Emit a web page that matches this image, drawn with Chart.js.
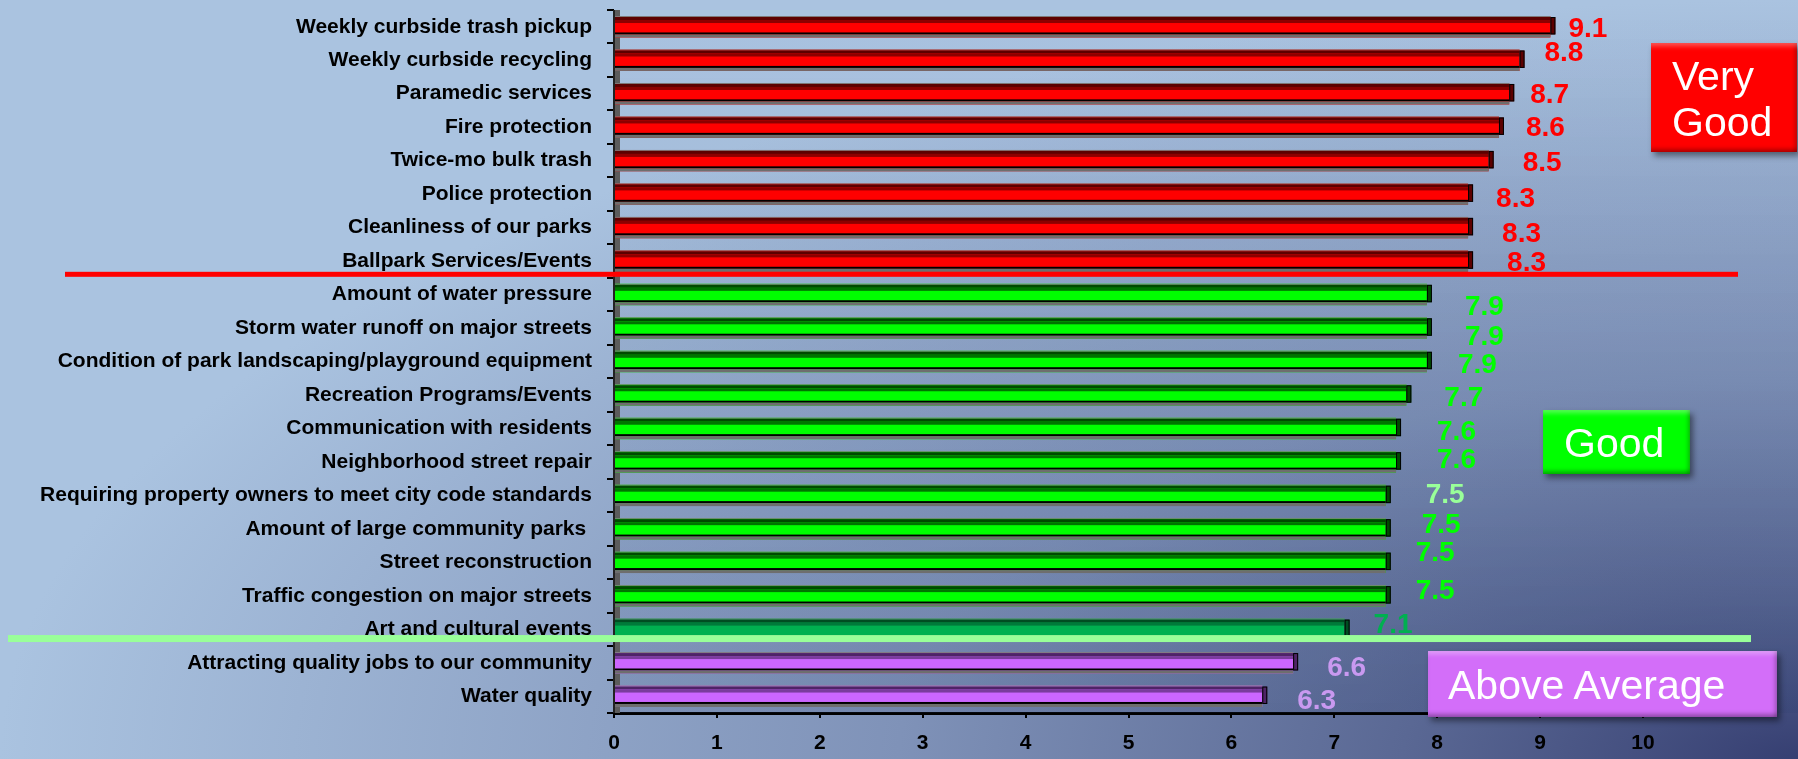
<!DOCTYPE html>
<html>
<head>
<meta charset="utf-8">
<script src="https://cdn.jsdelivr.net/npm/chart.js@4.4.0/dist/chart.umd.min.js"></script>
<style>
html, body { margin: 0; padding: 0; }
#wrap {
  position: relative; width: 1798px; height: 759px; overflow: hidden;
  background: radial-gradient(1798px 759px at 100% 100%, #363f72 0%, #5a6894 22%, #7f92b8 50%, #aac3e0 100%);
}
#wrap canvas { position: absolute; left: 0; top: 0; }
.tag {
  position: absolute; box-sizing: border-box; color: #fff;
  font-family: "Liberation Sans", Arial, sans-serif; font-size: 41px; line-height: 46px;
  box-shadow: 3px 4px 6px rgba(0,0,0,0.45),
              inset 0 6px 5px -3px rgba(255,255,255,0.35),
              inset 0 -5px 4px -2px rgba(0,0,0,0.3),
              inset -4px 0 4px -2px rgba(0,0,0,0.25);
}
</style>
</head>
<body>
<div id="wrap">
  <canvas id="chart"></canvas>
  <div class="tag" style="left:1651px;top:43px;width:146px;height:109px;padding:10px 0 0 21px;background:#ff0000;">Very<br>Good</div>
  <div class="tag" style="left:1543px;top:410px;width:147px;height:64px;padding:10px 0 0 21px;background:#00ff00;">Good</div>
  <div class="tag" style="left:1428px;top:651px;width:349px;height:66px;padding:11px 0 0 20px;background:#d36ef9;">Above Average</div>
</div>
<script>
// categories, top to bottom
const categories = [
  'Weekly curbside trash pickup',
  'Weekly curbside recycling',
  'Paramedic services',
  'Fire protection',
  'Twice-mo bulk trash',
  'Police protection',
  'Cleanliness of our parks',
  'Ballpark Services/Events',
  'Amount of water pressure',
  'Storm water runoff on major streets',
  'Condition of park landscaping/playground equipment',
  'Recreation Programs/Events',
  'Communication with residents',
  'Neighborhood street repair',
  'Requiring property owners to meet city code standards',
  'Amount of large community parks ',
  'Street reconstruction',
  'Traffic congestion on major streets',
  'Art and cultural events',
  'Attracting quality jobs to our community',
  'Water quality'
];
const scores = [9.1, 8.8, 8.7, 8.6, 8.5, 8.3, 8.3, 8.3, 7.9, 7.9, 7.9, 7.7, 7.6, 7.6, 7.5, 7.5, 7.5, 7.5, 7.1, 6.6, 6.3];
const tiers = ['vg','vg','vg','vg','vg','vg','vg','vg',
               'g','g','g','g','g','g','g','g','g','g',
               'fair','avg','avg'];
const xTickValues = [0, 1, 2, 3, 4, 5, 6, 7, 8, 9, 10];

// looks
const FONT = '"Liberation Sans", Arial, sans-serif';
const tierStyle = {
  vg:   { face: '#ff0000', dark: '#5c0000', mid: '#8c0000', label: '#ff0000' },
  g:    { face: '#00ff00', dark: '#004a00', mid: '#007400', label: '#00ff00' },
  fair: { face: '#00b050', dark: '#004d22', mid: '#007a3a', label: '#00b050' },
  avg:  { face: '#cc66ff', dark: '#4e2466', mid: '#7a3c9c', label: '#c999f0' }
};
const labelColors = tiers.map(t => tierStyle[t].label);
labelColors[14] = '#99ff99';
// value label nudges (px from bar end / category centre), as laid out in the slide
const labelShiftX = [18, 25, 21, 27, 34, 28, 34, 39, 38, 38, 31, 38, 41, 41, 40, 36, 30, 30, 29, 34, 35];
const labelShiftY = [3, -7, 2, 1, 3, 5, 7, 2, 13, 9, 4, 3, 4, -2, 0, -4, -9, -5, -4, 5, 5];

const barLook = {
  id: 'barLook',
  beforeDatasetsDraw(chart) {
    const ctx = chart.ctx, a = chart.chartArea;
    ctx.save();
    const g = ctx.createLinearGradient(0, a.top, 0, a.bottom);
    g.addColorStop(0, 'rgba(40,60,110,0)');
    g.addColorStop(1, 'rgba(40,60,110,0.14)');
    ctx.fillStyle = g;
    ctx.fillRect(a.left, a.top, chart.width - a.left, a.bottom - a.top);
    // side wall of the 3d plot
    ctx.fillStyle = '#5c5c5c';
    ctx.fillRect(a.left, a.top, 6, a.bottom - a.top);
    ctx.fillStyle = '#222';
    ctx.fillRect(a.left - 1, a.top, 2, a.bottom - a.top);
    ctx.restore();
  },
  afterDatasetsDraw(chart) {
    const ctx = chart.ctx;
    const meta = chart.getDatasetMeta(0);
    ctx.save();
    meta.data.forEach((bar, i) => {
      const s = tierStyle[tiers[i]];
      const h = bar.height, top = bar.y - h / 2;
      const left = bar.base, w = bar.x - bar.base;
      ctx.fillStyle = '#7c7c7c'; ctx.fillRect(left, top, w, 1);
      ctx.fillStyle = s.dark; ctx.fillRect(left, top + 1, w, 3);
      ctx.fillStyle = s.mid; ctx.fillRect(left, top + 4, w, 3);
      ctx.fillStyle = '#000'; ctx.fillRect(left, top + h - 5, w, 2);
      ctx.fillStyle = '#6e6e6e'; ctx.fillRect(left, top + h - 3, w, 3);
      // end cap
      ctx.fillStyle = s.dark; ctx.fillRect(bar.x, top + 1, 5, h - 4);
      ctx.strokeStyle = '#000'; ctx.lineWidth = 1;
      ctx.strokeRect(bar.x + 0.5, top + 1.5, 4, h - 5);
    });
    ctx.restore();
  },
  afterDraw(chart) {
    const ctx = chart.ctx;
    const xs = chart.scales.x, ys = chart.scales.y;
    ctx.save();
    ctx.font = 'bold 28px ' + FONT;
    ctx.textAlign = 'left';
    ctx.textBaseline = 'middle';
    scores.forEach((v, i) => {
      ctx.fillStyle = labelColors[i];
      ctx.fillText(v.toFixed(1), xs.getPixelForValue(v) + labelShiftX[i], ys.getPixelForValue(i) + labelShiftY[i]);
    });
    // tier separators
    ctx.fillStyle = '#ff0000';
    ctx.fillRect(65, ys.getPixelForValue(7.5) - 6, 1673, 5);
    ctx.fillStyle = '#99ff99';
    ctx.fillRect(8, ys.getPixelForValue(18.5) - 11, 1743, 7);
    ctx.restore();
  }
};

new Chart(document.getElementById('chart'), {
  type: 'bar',
  data: {
    labels: categories,
    datasets: [{
      data: scores,
      backgroundColor: tiers.map(t => tierStyle[t].face),
      borderWidth: 0,
      barPercentage: 0.64,
      categoryPercentage: 1
    }]
  },
  options: {
    indexAxis: 'y',
    responsive: true,
    maintainAspectRatio: false,
    animation: false,
    layout: { padding: { top: 10, right: 155, left: 0, bottom: 0 } },
    plugins: { legend: { display: false }, tooltip: { enabled: false } },
    scales: {
      x: {
        min: 0, max: 10,
        afterBuildTicks(s) { s.ticks = xTickValues.map(v => ({ value: v })); },
        ticks: { color: '#000', font: { family: FONT, size: 21, weight: 'bold' }, padding: 13 },
        grid: { drawOnChartArea: false, drawTicks: true, tickLength: 5, color: '#000', lineWidth: 2 },
        border: { display: true, color: '#000', width: 3 },
        afterFit(s) { s.height = 46; s.paddingLeft = 0; s.paddingRight = 0; }
      },
      y: {
        ticks: { color: '#000', font: { family: FONT, size: 21, weight: 'bold' }, padding: 15, autoSkip: false },
        grid: { drawOnChartArea: false, tickLength: 7, color: '#000', lineWidth: 2, offset: true },
        border: { display: false },
        afterFit(s) { s.width = 614; s.paddingTop = 0; s.paddingBottom = 0; }
      }
    }
  },
  plugins: [barLook]
});
</script>
</body>
</html>
